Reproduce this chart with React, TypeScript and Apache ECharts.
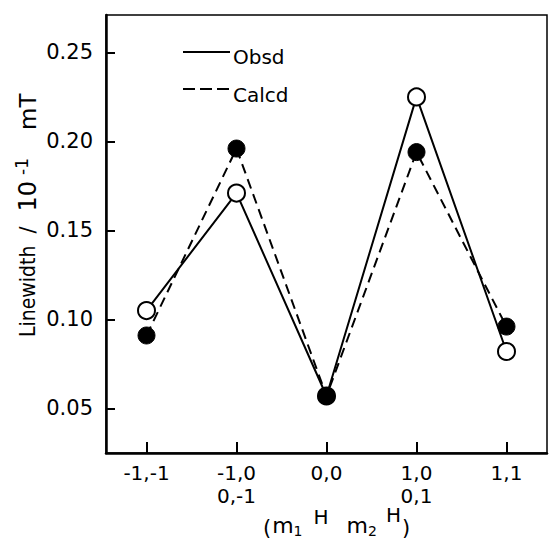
import React, { useEffect, useRef } from "react";
import * as echarts from "echarts";

const categories: string[] = ["-1,-1", "-1,0\n0,-1", "0,0", "1,0\n0,1", "1,1"];
const categoryIndex: number[] = [0, 1, 2, 3, 4];
const obsd: number[] = [0.105, 0.171, 0.057, 0.225, 0.082];
const calcd: number[] = [0.091, 0.196, 0.057, 0.194, 0.096];
const yTicks: number[] = [0.05, 0.1, 0.15, 0.2, 0.25];
const legendNames: string[] = ["Obsd", "Calcd"];

const FONT = "'DejaVu Sans', sans-serif";
const NARROW = "'Liberation Sans Narrow', 'DejaVu Sans Condensed', 'Liberation Sans', sans-serif";

export default function App() {
  const ref = useRef<HTMLDivElement>(null);
  useEffect(() => {
    if (!ref.current) return;
    const chart = echarts.init(ref.current, undefined, { renderer: "svg" });
    const toPairs = (vals: number[]) => vals.map((v, i) => [categoryIndex[i], v]);
    chart.setOption({
      animation: false,
      backgroundColor: "#ffffff",
      grid: {
        left: 106,
        right: 3,
        top: 15,
        bottom: 86,
        show: true,
        borderColor: "#000",
        borderWidth: 1.5,
        backgroundColor: "transparent",
      },
      xAxis: {
        type: "value",
        min: -0.45,
        max: 4.45,
        splitLine: { show: false },
        axisLine: { show: true, onZero: false, lineStyle: { color: "#000", width: 2.5 } },
        axisTick: {
          show: true,
          inside: true,
          length: 11,
          lineStyle: { color: "#000", width: 2 },
          customValues: categoryIndex,
        },
        axisLabel: {
          customValues: categoryIndex,
          formatter: (v: number) => categories[Math.round(v)] ?? "",
          color: "#000",
          fontFamily: FONT,
          fontSize: 20,
          lineHeight: 23,
          margin: 8,
        },
      },
      yAxis: {
        type: "value",
        min: 0.025,
        max: 0.271,
        splitLine: { show: false },
        axisLine: { show: true, onZero: false, lineStyle: { color: "#000", width: 2.5 } },
        axisTick: {
          show: true,
          inside: true,
          length: 9,
          lineStyle: { color: "#000", width: 2 },
          customValues: yTicks,
        },
        axisLabel: {
          customValues: yTicks,
          formatter: (v: number) => v.toFixed(2),
          color: "#000",
          fontFamily: FONT,
          fontSize: 21,
          margin: 13,
        },
      },
      series: [
        {
          name: legendNames[0],
          type: "line",
          data: toPairs(obsd),
          symbol: "circle",
          symbolSize: 17,
          lineStyle: { color: "#000", width: 2, type: "solid" },
          itemStyle: { color: "#fff", borderColor: "#000", borderWidth: 2 },
          z: 2,
        },
        {
          name: legendNames[1],
          type: "line",
          data: toPairs(calcd),
          symbol: "circle",
          symbolSize: 17,
          lineStyle: { color: "#000", width: 2, type: [10, 6] },
          itemStyle: { color: "#000", borderColor: "#000", borderWidth: 1 },
          z: 3,
        },
      ],
      graphic: [
        {
          type: "line",
          shape: { x1: 183, y1: 52, x2: 230, y2: 52 },
          style: { stroke: "#000", lineWidth: 2 },
        },
        {
          type: "text",
          x: 233,
          y: 57,
          style: {
            text: legendNames[0],
            fill: "#000",
            font: `20px ${FONT}`,
            align: "left",
            verticalAlign: "middle",
            textAlign: "left",
            textVerticalAlign: "middle",
          },
        },
        {
          type: "line",
          shape: { x1: 183, y1: 89, x2: 230, y2: 89 },
          style: { stroke: "#000", lineWidth: 2, lineDash: [12, 5] },
        },
        {
          type: "text",
          x: 233,
          y: 95,
          style: {
            text: legendNames[1],
            fill: "#000",
            font: `20px ${FONT}`,
            align: "left",
            verticalAlign: "middle",
            textAlign: "left",
            textVerticalAlign: "middle",
          },
        },
        {
          type: "text",
          x: 28,
          y: 337,
          rotation: Math.PI / 2,
          style: {
            text: "{a|Linewidth}{b|/}{c|10}{sup|-1}{d|mT}",
            fill: "#000",
            fontFamily: NARROW,
            fontSize: 21,
            lineHeight: 30,
            align: "left",
            verticalAlign: "middle",
            textAlign: "left",
            textVerticalAlign: "middle",
            rich: {
              a: { fontFamily: NARROW, fontSize: 21, lineHeight: 30, fill: "#000" },
              b: { fontFamily: FONT, fontSize: 21, lineHeight: 30, padding: [0, 0, 0, 12], fill: "#000" },
              c: { fontFamily: FONT, fontSize: 24, lineHeight: 30, padding: [0, 0, 0, 15], fill: "#000" },
              sup: {
                fontFamily: FONT,
                fontSize: 17,
                lineHeight: 12,
                verticalAlign: "top",
                padding: [0, 0, 0, 6],
                fill: "#000",
              },
              d: { fontFamily: FONT, fontSize: 23, lineHeight: 30, padding: [0, 0, 0, 28], fill: "#000" },
            },
          },
        },
        {
          type: "text",
          x: 263,
          y: 505,
          style: {
            text: "{p|(}{m|m}{s|1}{h|H}{m2|m}{s|2}{h2|H}{p2|)}",
            fill: "#000",
            align: "left",
            verticalAlign: "top",
            textAlign: "left",
            textVerticalAlign: "top",
            rich: {
              p: { fontFamily: FONT, fontSize: 21, lineHeight: 20, verticalAlign: "top", padding: [12, 1, 0, 0], fill: "#000" },
              m: { fontFamily: FONT, fontSize: 22, lineHeight: 20, verticalAlign: "top", padding: [9, 0, 0, 0], fill: "#000" },
              m2: { fontFamily: FONT, fontSize: 22, lineHeight: 20, verticalAlign: "top", padding: [9, 0, 0, 18], fill: "#000" },
              s: { fontFamily: FONT, fontSize: 14, lineHeight: 14, verticalAlign: "top", padding: [19, 0, 0, 0], fill: "#000" },
              h: { fontFamily: FONT, fontSize: 20, lineHeight: 20, verticalAlign: "top", padding: [2, 0, 0, 11], fill: "#000" },
              h2: { fontFamily: FONT, fontSize: 20, lineHeight: 20, verticalAlign: "top", padding: [0, 0, 0, 9], fill: "#000" },
              p2: { fontFamily: FONT, fontSize: 21, lineHeight: 20, verticalAlign: "top", padding: [12, 0, 0, 1], fill: "#000" },
            },
          },
        },
      ],
    });
    return () => chart.dispose();
  }, []);
  return (
    <div
      ref={ref}
      style={{ position: "fixed", left: 0, top: 0, width: 550, height: 539, background: "#fff" }}
    />
  );
}
